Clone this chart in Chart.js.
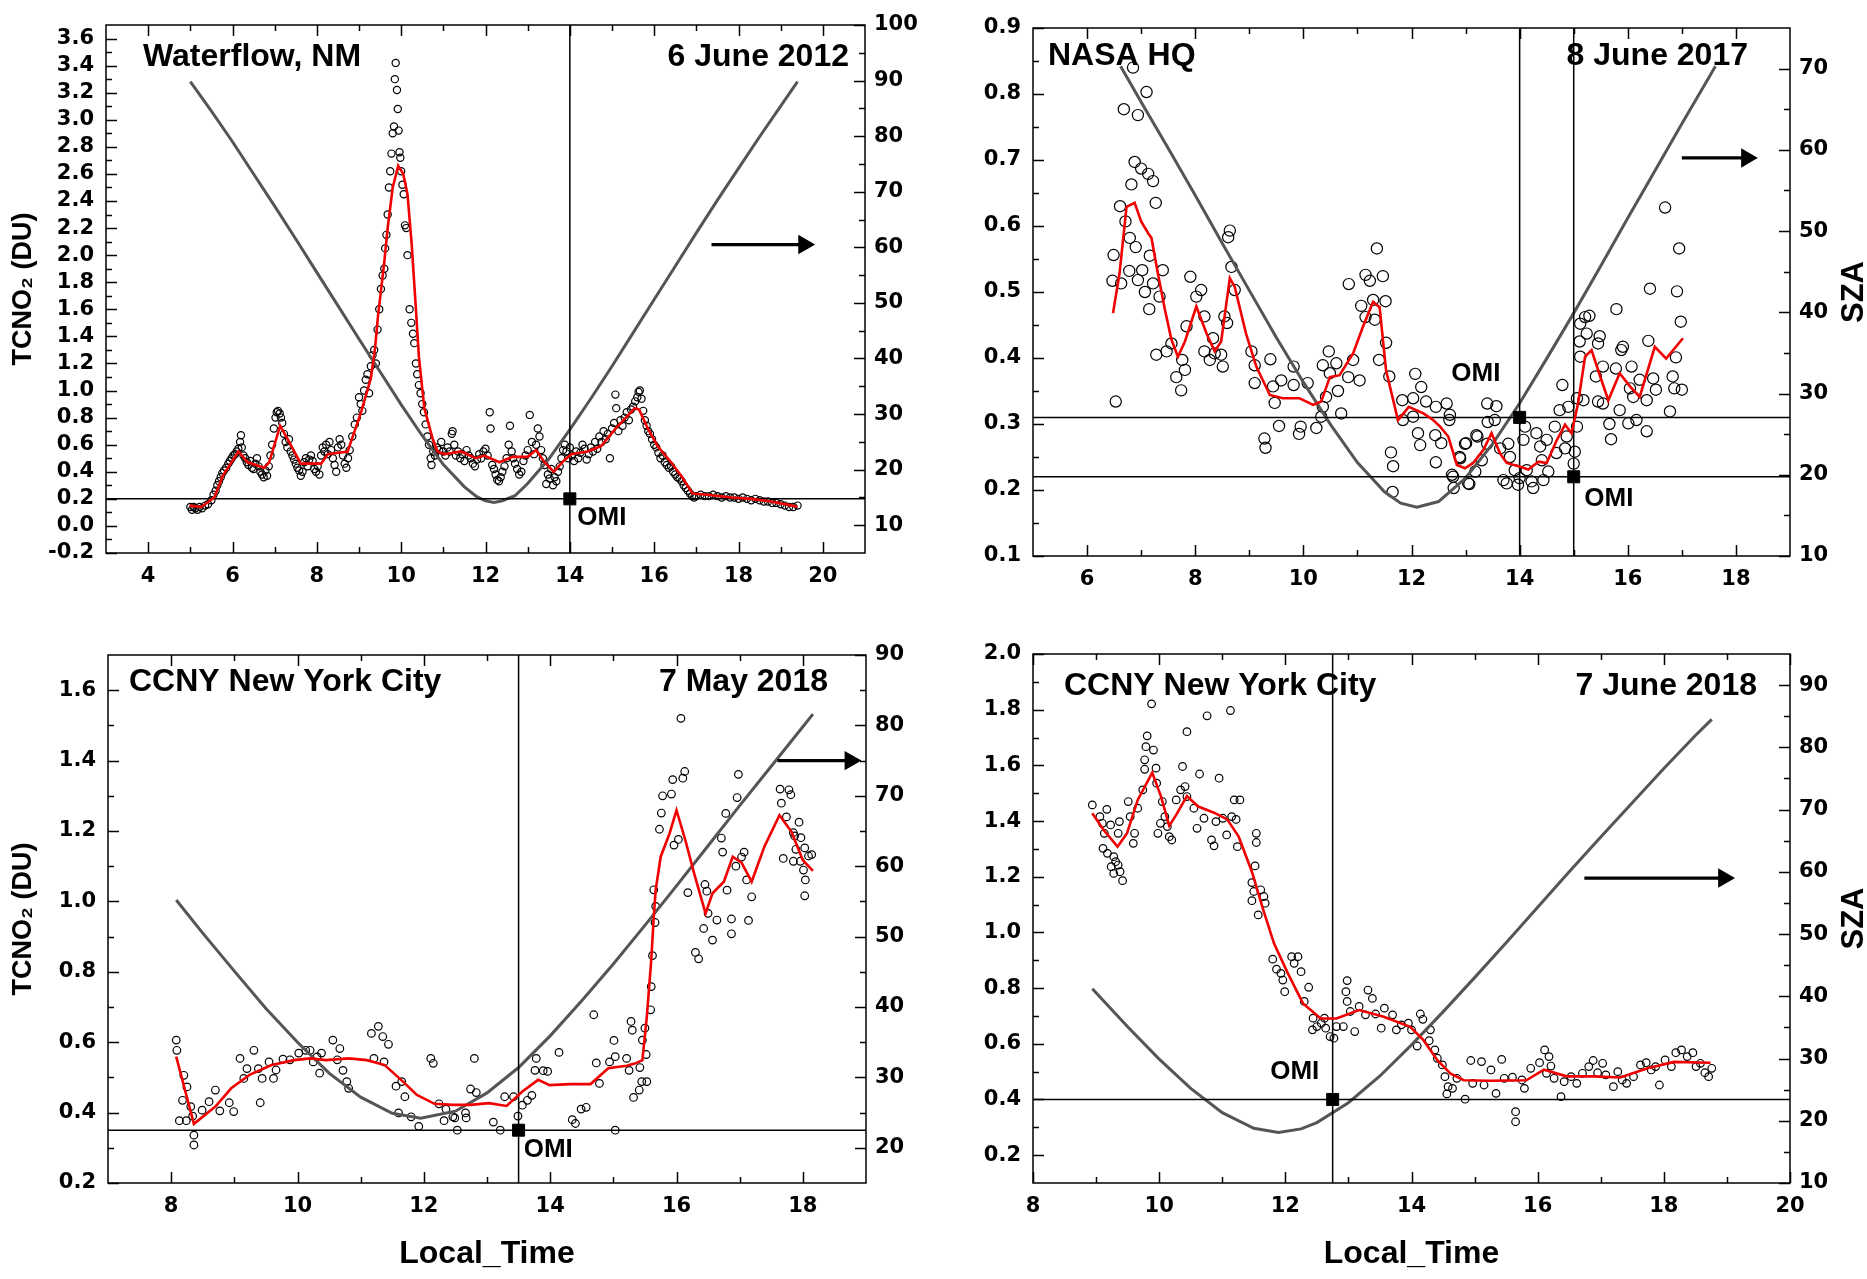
<!DOCTYPE html>
<html>
<head>
<meta charset="utf-8">
<script src="https://cdn.jsdelivr.net/npm/chart.js@4.4.1/dist/chart.umd.min.js"></script>
<style>
  html, body { margin: 0; padding: 0; background: #fff; }
  #page { position: relative; width: 1867px; height: 1279px; background: #fff; overflow: hidden; }
  canvas { position: absolute; }
</style>
</head>
<body>
<div id="page">
  <canvas id="c1" width="933" height="640" style="left:0;top:0"></canvas>
  <canvas id="c2" width="934" height="640" style="left:933px;top:0"></canvas>
  <canvas id="c3" width="933" height="650" style="left:0;top:629px"></canvas>
  <canvas id="c4" width="934" height="650" style="left:933px;top:629px"></canvas>
</div>
<script>
// ---------- Panel 1: Waterflow, NM, 6 June 2012 ----------
const p1XTicks = [4, 6, 8, 10, 12, 14, 16, 18, 20];
const p1YTicks = [-0.2, 0.0, 0.2, 0.4, 0.6, 0.8, 1.0, 1.2, 1.4, 1.6, 1.8, 2.0, 2.2, 2.4, 2.6, 2.8, 3.0, 3.2, 3.4, 3.6];
const p1SzaTicks = [10, 20, 30, 40, 50, 60, 70, 80, 90, 100];
const p1Omi = [[14, 0.2]];
const p1Arrow = [17.36, 19.55, 60.5];   // from time, to time, SZA level
const p1Obs = [
  [5.0,0.14],[5.04,0.12],[5.08,0.14],[5.12,0.13],[5.17,0.12],[5.22,0.14],[5.28,0.13],[5.35,0.15],[5.42,0.16],[5.5,0.19],
  [5.55,0.23],[5.6,0.26],[5.64,0.3],[5.68,0.33],[5.72,0.36],[5.76,0.39],[5.8,0.41],[5.85,0.43],[5.9,0.46],[5.94,0.48],
  [5.98,0.5],[6.02,0.52],[6.06,0.53],[6.1,0.55],[6.14,0.57],[6.18,0.62],[6.2,0.67],[6.22,0.58],[6.26,0.52],[6.3,0.5],
  [6.34,0.47],[6.38,0.45],[6.42,0.48],[6.46,0.43],[6.5,0.42],[6.54,0.46],[6.58,0.5],[6.62,0.44],[6.66,0.4],[6.7,0.38],
  [6.74,0.36],[6.78,0.41],[6.82,0.37],[6.86,0.44],[6.9,0.52],[6.94,0.6],[6.98,0.72],[7.02,0.8],[7.05,0.84],[7.08,0.85],
  [7.12,0.83],[7.15,0.8],[7.18,0.76],[7.22,0.68],[7.26,0.62],[7.3,0.58],[7.34,0.64],[7.38,0.55],[7.42,0.52],[7.46,0.49],
  [7.5,0.46],[7.54,0.43],[7.58,0.41],[7.62,0.37],[7.66,0.4],[7.7,0.47],[7.74,0.5],[7.78,0.44],[7.82,0.49],[7.86,0.52],
  [7.9,0.48],[7.94,0.42],[7.98,0.4],[8.02,0.44],[8.06,0.38],[8.1,0.52],[8.14,0.58],[8.18,0.55],[8.22,0.6],[8.26,0.53],
  [8.3,0.62],[8.34,0.56],[8.38,0.5],[8.42,0.45],[8.46,0.4],[8.5,0.58],[8.54,0.64],[8.58,0.6],[8.62,0.52],[8.66,0.46],
  [8.7,0.43],[8.74,0.5],[8.78,0.56],[8.84,0.66],[8.9,0.75],[8.95,0.8],[9.0,0.95],[9.04,0.9],[9.08,0.85],[9.12,1.0],
  [9.16,1.08],[9.2,1.12],[9.24,0.98],[9.28,1.18],[9.32,1.26],[9.36,1.3],[9.4,1.2],[9.44,1.45],[9.48,1.6],[9.52,1.75],
  [9.56,1.85],[9.6,1.9],[9.62,2.05],[9.65,2.15],[9.68,2.3],[9.71,2.5],[9.74,2.62],[9.77,2.75],[9.8,2.9],[9.83,2.95],
  [9.85,3.3],[9.87,3.42],[9.9,3.22],[9.92,3.08],[9.94,2.92],[9.96,2.76],[9.98,2.72],[10.0,2.62],[10.03,2.52],[10.06,2.45],
  [10.09,2.22],[10.12,2.2],[10.15,2.0],[10.2,1.6],[10.24,1.5],[10.28,1.42],[10.31,1.35],[10.35,1.2],[10.38,1.12],[10.42,1.04],
  [10.46,0.98],[10.5,0.9],[10.54,0.84],[10.58,0.75],[10.62,0.66],[10.66,0.6],[10.7,0.5],[10.72,0.45],[10.76,0.55],[10.8,0.52],
  [10.85,0.58],[10.9,0.56],[10.95,0.62],[11.0,0.55],[11.05,0.52],[11.1,0.58],[11.15,0.55],[11.2,0.68],[11.22,0.7],[11.26,0.6],
  [11.3,0.52],[11.35,0.55],[11.4,0.5],[11.45,0.53],[11.5,0.48],[11.55,0.56],[11.6,0.52],[11.65,0.5],[11.7,0.46],[11.75,0.44],
  [11.8,0.49],[11.85,0.53],[11.9,0.5],[11.95,0.55],[12.0,0.57],[12.05,0.52],[12.1,0.84],[12.12,0.72],[12.16,0.45],[12.2,0.42],
  [12.24,0.38],[12.28,0.34],[12.32,0.33],[12.36,0.36],[12.4,0.4],[12.45,0.44],[12.5,0.5],[12.55,0.6],[12.58,0.74],[12.62,0.55],
  [12.66,0.5],[12.7,0.46],[12.75,0.42],[12.8,0.38],[12.85,0.4],[12.9,0.48],[12.95,0.52],[13.0,0.56],[13.05,0.82],[13.1,0.62],
  [13.15,0.53],[13.2,0.6],[13.24,0.72],[13.28,0.66],[13.32,0.56],[13.36,0.5],[13.4,0.45],[13.44,0.31],[13.48,0.38],[13.52,0.35],
  [13.56,0.42],[13.6,0.3],[13.64,0.36],[13.68,0.33],[13.72,0.4],[13.76,0.44],[13.8,0.5],[13.84,0.56],[13.88,0.6],[13.92,0.55],
  [13.96,0.5],[14.0,0.58],[14.05,0.52],[14.1,0.48],[14.15,0.55],[14.2,0.5],[14.25,0.54],[14.3,0.6],[14.35,0.57],[14.4,0.49],
  [14.45,0.53],[14.5,0.58],[14.55,0.55],[14.6,0.62],[14.65,0.57],[14.7,0.66],[14.75,0.62],[14.8,0.7],[14.85,0.64],[14.9,0.68],
  [14.95,0.5],[15.0,0.72],[15.05,0.76],[15.08,0.97],[15.1,0.87],[15.15,0.7],[15.2,0.78],[15.25,0.74],[15.3,0.8],[15.35,0.84],
  [15.4,0.78],[15.45,0.86],[15.5,0.88],[15.55,0.92],[15.6,0.95],[15.63,0.99],[15.66,1.0],[15.7,0.94],[15.74,0.85],[15.78,0.78],
  [15.82,0.74],[15.86,0.7],[15.9,0.68],[15.95,0.64],[16.0,0.6],[16.05,0.58],[16.1,0.54],[16.15,0.5],[16.2,0.52],[16.25,0.47],
  [16.3,0.45],[16.35,0.43],[16.4,0.44],[16.45,0.4],[16.5,0.38],[16.55,0.36],[16.6,0.35],[16.65,0.33],[16.7,0.3],[16.75,0.28],
  [16.8,0.26],[16.85,0.24],[16.9,0.22],[16.95,0.21],[17.0,0.22],[17.1,0.23],[17.2,0.22],[17.3,0.22],[17.4,0.23],[17.5,0.22],
  [17.6,0.21],[17.7,0.22],[17.8,0.21],[17.9,0.21],[18.0,0.2],[18.1,0.21],[18.2,0.2],[18.3,0.19],[18.4,0.2],[18.5,0.19],
  [18.6,0.18],[18.7,0.18],[18.8,0.17],[18.9,0.17],[19.0,0.16],[19.1,0.15],[19.2,0.14],[19.3,0.14],[19.4,0.15]
];
const p1Fit = [
  [4.98,0.15],[5.26,0.14],[5.57,0.21],[5.77,0.37],[6.14,0.55],[6.36,0.47],[6.75,0.43],[6.87,0.47],[7.13,0.74],[7.31,0.64],
  [7.62,0.46],[8.1,0.46],[8.26,0.53],[8.73,0.55],[9.05,0.84],[9.28,1.09],[9.38,1.31],[9.45,1.55],[9.6,1.95],[9.68,2.2],
  [9.8,2.5],[9.93,2.66],[10.05,2.6],[10.15,2.45],[10.25,2.08],[10.35,1.6],[10.42,1.25],[10.55,0.87],[10.75,0.64],[10.86,0.55],
  [11.02,0.53],[11.42,0.55],[11.77,0.5],[11.97,0.52],[12.33,0.47],[12.64,0.51],[13.0,0.51],[13.2,0.56],[13.4,0.47],[13.62,0.4],
  [13.85,0.48],[14.03,0.53],[14.42,0.55],[14.74,0.59],[15.09,0.72],[15.54,0.87],[15.64,0.86],[15.85,0.72],[16.08,0.59],[16.4,0.47],
  [16.64,0.37],[16.91,0.24],[17.27,0.23],[17.82,0.21],[18.3,0.2],[18.77,0.18],[19.28,0.15],[19.4,0.14]
];
const p1Sza = [
  [5.0,89.8],[5.5,84.5],[6.0,79.0],[6.5,73.2],[7.0,67.4],[7.5,61.5],[8.0,55.5],[8.5,49.5],[9.0,43.5],[9.5,37.6],
  [10.0,31.7],[10.5,26.1],[11.0,20.9],[11.5,16.9],[11.8,15.1],[12.0,14.4],[12.2,14.1],[12.4,14.4],[12.7,15.3],[13.0,17.5],
  [13.5,21.9],[14.0,27.2],[14.5,32.8],[15.0,38.6],[15.5,44.6],[16.0,50.6],[16.5,56.6],[17.0,62.6],[17.5,68.5],[18.0,74.2],
  [18.5,79.9],[19.0,85.4],[19.4,89.8]
];

// ---------- Panel 2: NASA HQ, 8 June 2017 ----------
const p2XTicks = [6, 8, 10, 12, 14, 16, 18];
const p2YTicks = [0.1, 0.2, 0.3, 0.4, 0.5, 0.6, 0.7, 0.8, 0.9];
const p2SzaTicks = [10, 20, 30, 40, 50, 60, 70];
const p2Omi = [[14, 0.31], [15, 0.22]];
const p2Arrow = [17.0, 18.2, 59];
const p2Obs = [
  [6.85,0.84],[7.1,0.803],[6.68,0.777],[6.94,0.768],[6.88,0.697],[7.0,0.687],[7.13,0.679],[7.22,0.668],[6.82,0.663],[7.27,0.635],
  [6.61,0.63],[6.71,0.607],[6.79,0.582],[6.9,0.568],[6.49,0.556],[7.16,0.555],[6.78,0.532],[7.02,0.533],[7.4,0.533],[6.47,0.517],
  [6.63,0.513],[6.94,0.518],[7.22,0.513],[7.07,0.5],[7.34,0.493],[7.15,0.474],[6.53,0.334],[7.91,0.523],[8.11,0.503],[8.02,0.493],
  [8.17,0.463],[7.84,0.448],[7.56,0.422],[7.28,0.405],[7.47,0.41],[7.76,0.397],[7.81,0.382],[7.65,0.371],[7.74,0.351],[8.17,0.41],
  [8.27,0.397],[8.36,0.407],[8.48,0.405],[8.51,0.387],[8.33,0.43],[8.54,0.463],[8.59,0.453],[8.64,0.593],[8.61,0.583],[8.67,0.538],
  [8.73,0.503],[9.04,0.41],[9.1,0.389],[9.1,0.362],[9.39,0.398],[9.44,0.357],[9.47,0.332],[9.59,0.366],[9.82,0.387],[9.82,0.359],
  [10.08,0.362],[9.55,0.297],[9.28,0.278],[9.3,0.264],[9.95,0.296],[9.92,0.285],[10.24,0.294],[10.33,0.311],[10.36,0.326],[10.42,0.341],
  [10.64,0.35],[10.7,0.316],[10.47,0.41],[10.36,0.389],[10.61,0.392],[10.49,0.377],[10.83,0.371],[10.92,0.397],[11.04,0.366],[10.84,0.512],
  [11.15,0.526],[11.23,0.517],[11.47,0.524],[11.36,0.566],[11.07,0.479],[11.15,0.462],[11.29,0.488],[11.52,0.486],[11.32,0.458],[11.53,0.423],
  [11.4,0.397],[11.59,0.372],[11.62,0.257],[11.66,0.236],[11.65,0.197],[11.83,0.336],[12.07,0.376],[12.18,0.356],[12.03,0.339],[12.27,0.334],
  [12.45,0.326],[12.65,0.331],[11.84,0.306],[12.03,0.311],[12.12,0.286],[12.16,0.268],[12.44,0.283],[12.55,0.271],[12.45,0.242],[12.7,0.306],
  [12.75,0.223],[12.78,0.203],[13.01,0.271],[12.89,0.25],[13.07,0.209],[13.22,0.281],[12.71,0.314],[12.77,0.22],[13.05,0.21],[12.99,0.27],
  [13.2,0.283],[12.9,0.248],[13.18,0.228],[13.4,0.331],[13.57,0.327],[13.41,0.303],[13.54,0.306],[13.4,0.27],[13.3,0.245],[13.64,0.263],
  [13.7,0.215],[13.79,0.27],[13.82,0.25],[13.91,0.23],[14.0,0.218],[13.76,0.21],[13.97,0.208],[14.1,0.296],[14.07,0.276],[14.22,0.213],
  [14.25,0.203],[14.13,0.23],[14.31,0.286],[14.38,0.266],[14.41,0.245],[14.5,0.276],[14.44,0.215],[14.53,0.228],[14.65,0.296],[14.74,0.321],
  [14.68,0.256],[14.79,0.359],[14.87,0.281],[14.9,0.326],[14.84,0.263],[15.02,0.258],[15.0,0.24],[15.06,0.296],[15.06,0.339],[15.12,0.452],
  [15.21,0.462],[15.29,0.464],[15.11,0.425],[15.12,0.402],[15.24,0.437],[15.45,0.422],[15.48,0.433],[15.18,0.336],[15.41,0.372],[15.54,0.387],
  [15.79,0.474],[15.88,0.412],[15.91,0.417],[15.78,0.384],[16.07,0.387],[16.22,0.367],[15.54,0.331],[15.85,0.321],[15.66,0.3],[15.69,0.277],
  [16.04,0.354],[16.1,0.341],[16.16,0.306],[16.35,0.289],[16.01,0.301],[16.35,0.336],[16.47,0.369],[16.52,0.352],[16.38,0.426],[16.41,0.505],
  [16.69,0.628],[16.95,0.566],[16.91,0.501],[16.98,0.455],[16.89,0.401],[16.83,0.372],[16.86,0.354],[17.0,0.352],[16.78,0.319],[15.45,0.334]
];
const p2Fit = [
  [6.48,0.468],[6.6,0.528],[6.73,0.629],[6.88,0.635],[7.0,0.607],[7.13,0.589],[7.19,0.582],[7.31,0.528],[7.44,0.473],[7.56,0.428],
  [7.68,0.402],[7.81,0.425],[8.02,0.478],[8.21,0.437],[8.36,0.41],[8.48,0.425],[8.64,0.521],[8.73,0.508],[8.94,0.437],[9.13,0.387],
  [9.38,0.344],[9.62,0.339],[9.93,0.339],[10.18,0.329],[10.33,0.334],[10.49,0.371],[10.67,0.374],[10.92,0.407],[11.1,0.447],[11.29,0.485],
  [11.41,0.477],[11.53,0.381],[11.75,0.306],[11.95,0.326],[12.22,0.316],[12.4,0.306],[12.53,0.296],[12.68,0.281],[12.84,0.238],[12.99,0.233],
  [13.14,0.241],[13.33,0.261],[13.48,0.286],[13.64,0.255],[13.76,0.241],[13.98,0.236],[14.16,0.231],[14.35,0.243],[14.5,0.241],[14.69,0.276],
  [14.84,0.299],[14.96,0.286],[15.08,0.331],[15.21,0.402],[15.33,0.412],[15.49,0.372],[15.64,0.336],[15.85,0.377],[16.04,0.357],[16.22,0.341],
  [16.5,0.417],[16.71,0.399],[17.02,0.43]
];
const p2Sza = [
  [6.62,70.3],[7.0,65.9],[7.5,60.2],[8.0,54.4],[8.5,48.5],[9.0,42.7],[9.5,36.9],[10.0,31.4],[10.5,26.2],[11.0,21.5],
  [11.5,17.9],[11.8,16.5],[12.1,16.0],[12.5,16.7],[13.0,19.6],[13.5,23.8],[14.0,28.8],[14.5,34.3],[15.0,39.9],[15.5,45.7],
  [16.0,51.6],[16.5,57.4],[17.0,63.2],[17.5,68.9],[17.62,70.3]
];

// ---------- Panel 3: CCNY New York City, 7 May 2018 ----------
const p3XTicks = [8, 10, 12, 14, 16, 18];
const p3YTicks = [0.2, 0.4, 0.6, 0.8, 1.0, 1.2, 1.4, 1.6];
const p3SzaTicks = [20, 30, 40, 50, 60, 70, 80, 90];
const p3Omi = [[13.5, 0.35]];
const p3Arrow = [17.6, 18.75, 75];
const p3Obs = [
  [8.08,0.606],[8.09,0.577],[8.2,0.506],[8.18,0.435],[8.25,0.473],[8.13,0.377],[8.24,0.377],[8.31,0.417],[8.36,0.336],[8.36,0.308],
  [8.34,0.39],[8.49,0.407],[8.6,0.431],[8.7,0.464],[8.77,0.405],[8.92,0.428],[8.99,0.403],[9.09,0.554],[9.15,0.497],[9.2,0.525],
  [9.31,0.577],[9.38,0.525],[9.44,0.497],[9.41,0.428],[9.55,0.544],[9.62,0.497],[9.66,0.521],[9.77,0.552],[9.88,0.55],[10.02,0.569],
  [10.13,0.577],[10.2,0.577],[10.25,0.544],[10.31,0.558],[10.38,0.569],[10.35,0.512],[10.56,0.606],[10.67,0.582],[10.63,0.55],[10.72,0.52],
  [10.78,0.488],[10.81,0.469],[11.17,0.625],[11.28,0.645],[11.35,0.616],[11.44,0.594],[11.21,0.554],[11.37,0.544],[11.56,0.475],[11.65,0.488],
  [11.7,0.445],[11.6,0.399],[11.8,0.388],[11.92,0.361],[12.11,0.554],[12.15,0.54],[12.24,0.425],[12.35,0.41],[12.46,0.388],[12.32,0.377],
  [12.53,0.35],[12.49,0.385],[12.66,0.399],[12.74,0.467],[12.8,0.554],[12.83,0.457],[12.67,0.385],[13.1,0.373],[13.21,0.35],[13.28,0.445],
  [13.42,0.445],[13.49,0.39],[13.56,0.421],[13.64,0.435],[13.71,0.449],[13.78,0.554],[13.76,0.52],[13.89,0.519],[13.96,0.517],[14.14,0.571],
  [14.35,0.38],[14.4,0.369],[14.49,0.41],[14.57,0.415],[14.69,0.678],[14.73,0.541],[14.78,0.483],[14.94,0.544],[15.01,0.605],[15.03,0.559],
  [15.03,0.35],[15.21,0.554],[15.25,0.52],[15.28,0.659],[15.3,0.634],[15.32,0.443],[15.41,0.464],[15.42,0.528],[15.45,0.488],[15.46,0.606],
  [15.5,0.64],[15.52,0.565],[15.53,0.488],[15.59,0.692],[15.6,0.758],[15.62,0.846],[15.66,0.94],[15.64,1.033],[15.67,0.986],[15.73,1.205],
  [15.76,1.251],[15.78,1.3],[15.92,1.305],[15.94,1.346],[16.13,1.369],[16.1,1.35],[16.07,1.52],[15.96,1.16],[16.03,1.176],[16.18,1.025],
  [16.45,1.048],[16.48,1.029],[16.5,0.966],[16.43,0.923],[16.57,0.89],[16.64,0.947],[16.3,0.855],[16.35,0.837],[16.71,1.18],[16.73,1.14],
  [16.8,1.032],[16.87,0.95],[16.87,0.908],[16.94,1.1],[16.96,1.295],[16.98,1.361],[17.07,1.14],[17.03,1.126],[17.14,0.946],[17.19,1.013],
  [17.11,1.061],[16.78,1.25],[17.64,1.319],[17.78,1.317],[17.66,1.279],[17.81,1.303],[17.74,1.24],[17.94,1.225],[17.85,1.195],[17.69,1.122],
  [17.87,1.186],[17.97,1.181],[17.89,1.148],[18.03,1.152],[18.14,1.133],[17.96,1.114],[18.01,1.089],[18.04,1.061],[18.03,1.016],[17.85,1.114],
  [18.09,1.129]
];
const p3Fit = [
  [8.08,0.559],[8.36,0.368],[8.7,0.417],[8.95,0.469],[9.24,0.507],[9.59,0.535],[9.95,0.549],[10.2,0.554],[10.45,0.549],[10.81,0.554],
  [11.1,0.549],[11.38,0.535],[11.67,0.488],[11.89,0.45],[12.17,0.425],[12.46,0.422],[12.74,0.422],[13.03,0.427],[13.31,0.419],[13.56,0.46],
  [13.81,0.493],[13.99,0.478],[14.32,0.481],[14.64,0.481],[14.92,0.526],[15.21,0.533],[15.35,0.54],[15.46,0.549],[15.53,0.672],[15.6,0.833],
  [15.64,0.956],[15.67,1.032],[15.75,1.127],[15.89,1.193],[16.0,1.259],[16.14,1.174],[16.28,1.079],[16.46,0.966],[16.57,1.023],[16.75,1.056],
  [16.89,1.127],[17.03,1.11],[17.19,1.056],[17.39,1.155],[17.63,1.245],[17.82,1.198],[18.0,1.117],[18.16,1.087]
];
const p3Sza = [
  [8.08,55.2],[8.5,50.5],[9.0,45.1],[9.5,39.8],[10.0,35.0],[10.5,30.6],[11.0,27.2],[11.5,24.9],[11.95,24.2],[12.5,25.2],
  [13.0,27.8],[13.5,31.4],[14.0,35.9],[14.5,40.9],[15.0,46.1],[15.5,51.6],[16.0,57.2],[16.5,62.9],[17.0,68.6],[17.5,74.2],
  [18.0,79.8],[18.16,81.6]
];

// ---------- Panel 4: CCNY New York City, 7 June 2018 ----------
const p4XTicks = [8, 10, 12, 14, 16, 18, 20];
const p4YTicks = [0.2, 0.4, 0.6, 0.8, 1.0, 1.2, 1.4, 1.6, 1.8, 2.0];
const p4SzaTicks = [10, 20, 30, 40, 50, 60, 70, 80, 90];
const p4Omi = [[12.75, 0.4]];
const p4Arrow = [16.74, 18.95, 59];
const p4Obs = [
  [8.94,1.458],[9.06,1.416],[9.17,1.442],[9.1,1.392],[9.23,1.386],[9.13,1.356],[9.11,1.302],[9.18,1.284],[9.28,1.272],[9.31,1.254],
  [9.24,1.236],[9.35,1.242],[9.38,1.218],[9.28,1.212],[9.42,1.186],[9.35,1.356],[9.37,1.398],[9.51,1.47],[9.54,1.416],[9.61,1.356],
  [9.59,1.32],[9.66,1.446],[9.74,1.512],[9.77,1.586],[9.79,1.667],[9.81,1.706],[9.91,1.655],[9.77,1.62],[9.95,1.59],[9.88,1.821],
  [9.96,1.536],[10.05,1.47],[10.02,1.392],[9.98,1.356],[10.13,1.38],[10.16,1.344],[10.2,1.332],[10.09,1.416],[10.27,1.476],[10.34,1.512],
  [10.41,1.524],[10.44,1.488],[10.37,1.596],[10.44,1.721],[10.64,1.569],[10.55,1.446],[10.6,1.374],[10.76,1.778],[10.95,1.554],[10.71,1.41],
  [10.9,1.398],[10.83,1.332],[10.87,1.311],[11.07,1.35],[11.01,1.41],[11.13,1.797],[11.19,1.476],[11.28,1.476],[11.15,1.416],[11.22,1.406],
  [11.24,1.308],[11.54,1.356],[11.54,1.323],[11.52,1.239],[11.47,1.179],[11.5,1.147],[11.47,1.114],[11.61,1.153],[11.66,1.129],[11.57,1.063],
  [11.68,1.105],[11.8,0.904],[11.86,0.868],[11.93,0.853],[11.96,0.829],[11.99,0.787],[12.1,0.913],[12.14,0.889],[12.2,0.913],[12.25,0.859],
  [12.37,0.803],[12.3,0.752],[12.44,0.692],[12.5,0.662],[12.43,0.65],[12.57,0.674],[12.64,0.656],[12.62,0.692],[12.71,0.626],[12.77,0.62],
  [12.81,0.662],[12.92,0.662],[12.98,0.827],[12.96,0.787],[12.98,0.752],[13.03,0.716],[13.1,0.644],[13.17,0.734],[13.31,0.793],[13.38,0.763],
  [13.27,0.704],[13.43,0.707],[13.52,0.656],[13.57,0.728],[13.7,0.704],[13.76,0.65],[13.84,0.668],[13.95,0.674],[14.0,0.65],[14.14,0.707],
  [14.18,0.688],[14.09,0.592],[14.3,0.65],[14.28,0.611],[14.37,0.578],[14.41,0.548],[14.49,0.524],[14.53,0.482],[14.58,0.446],[14.56,0.42],
  [14.65,0.44],[14.72,0.476],[14.85,0.401],[14.94,0.54],[14.97,0.458],[15.11,0.536],[15.15,0.452],[15.26,0.506],[15.34,0.422],[15.43,0.544],
  [15.47,0.476],[15.6,0.48],[15.65,0.356],[15.65,0.32],[15.75,0.47],[15.79,0.44],[15.89,0.512],[16.03,0.532],[16.11,0.578],[16.18,0.554],
  [16.21,0.52],[16.14,0.494],[16.26,0.476],[16.37,0.41],[16.42,0.464],[16.53,0.482],[16.62,0.458],[16.71,0.494],[16.81,0.518],[16.88,0.54],
  [16.95,0.496],[17.03,0.53],[17.08,0.488],[17.2,0.446],[17.27,0.5],[17.34,0.47],[17.41,0.458],[17.52,0.482],[17.63,0.524],[17.72,0.532],
  [17.8,0.506],[17.87,0.518],[17.93,0.452],[18.02,0.542],[18.12,0.518],[18.19,0.568],[18.28,0.578],[18.37,0.554],[18.46,0.568],[18.51,0.518],
  [18.58,0.53],[18.65,0.496],[18.71,0.482],[18.76,0.512]
];
const p4Fit = [
  [8.94,1.428],[9.12,1.368],[9.34,1.308],[9.49,1.356],[9.66,1.476],[9.89,1.574],[10.03,1.488],[10.16,1.383],[10.27,1.422],[10.44,1.49],
  [10.62,1.452],[10.87,1.43],[11.08,1.406],[11.26,1.344],[11.47,1.218],[11.65,1.081],[11.82,0.961],[12.04,0.853],[12.28,0.745],[12.56,0.691],
  [12.81,0.691],[13.17,0.721],[13.56,0.697],[13.98,0.661],[14.19,0.613],[14.41,0.541],[14.62,0.493],[14.83,0.469],[15.25,0.467],[15.82,0.469],
  [16.1,0.507],[16.46,0.483],[16.88,0.483],[17.31,0.479],[17.73,0.511],[18.16,0.535],[18.74,0.532]
];
const p4Sza = [
  [8.94,41.2],[9.5,35.1],[10.0,29.9],[10.5,25.2],[11.0,21.3],[11.5,18.8],[11.89,18.1],[12.25,18.7],[12.5,19.7],[13.0,22.9],
  [13.5,27.2],[14.0,32.2],[14.5,37.5],[15.0,43.0],[15.5,48.6],[16.0,54.3],[16.5,60.0],[17.0,65.6],[17.5,71.1],[18.0,76.6],
  [18.5,81.9],[18.76,84.5]
];

const FONT = "'Liberation Sans', Arial, Helvetica, sans-serif";
const TICK_FONT = "'DejaVu Sans', Verdana, sans-serif";

function toPoints(pairs) {
  return pairs.map(p => ({ x: p[0], y: p[1] }));
}

// minor ticks sit halfway between the major ones
function halfSteps(major, min, max) {
  const step = major[1] - major[0];
  const out = [];
  for (let v = major[0] - step / 2; v < max; v += step) {
    if (v > min + 1e-6 && v < max - 1e-6) out.push(v);
  }
  return out;
}

// frame with inward tick marks on all four sides
const framePlugin = {
  id: 'frame',
  afterDatasetsDraw(chart, args, opts) {
    const { ctx, chartArea: a, scales } = chart;
    ctx.save();
    ctx.strokeStyle = '#000';
    ctx.lineWidth = 1.5;
    ctx.beginPath();
    const xs = scales.x, ys = scales.y, y2 = scales.y2;
    const tickX = (vals, len) => vals.forEach(v => {
      const px = Math.round(xs.getPixelForValue(v)) + 0.5;
      ctx.moveTo(px, a.bottom); ctx.lineTo(px, a.bottom - len);
      ctx.moveTo(px, a.top); ctx.lineTo(px, a.top + len);
    });
    const tickY = (scale, vals, len, edge, dir) => vals.forEach(v => {
      const py = Math.round(scale.getPixelForValue(v)) + 0.5;
      ctx.moveTo(edge, py); ctx.lineTo(edge + dir * len, py);
    });
    tickX(opts.x, 11);
    tickX(halfSteps(opts.x, xs.min, xs.max), 6);
    tickY(ys, opts.y, 11, a.left, 1);
    tickY(ys, halfSteps(opts.y, ys.min, ys.max), 6, a.left, 1);
    tickY(y2, opts.y2, 11, a.right, -1);
    tickY(y2, halfSteps(opts.y2, y2.min, y2.max), 6, a.right, -1);
    ctx.stroke();
    ctx.strokeRect(a.left, a.top, a.right - a.left, a.bottom - a.top);
    ctx.restore();
  }
};

// site names, dates, OMI labels and the rotated SZA title
const textPlugin = {
  id: 'panelText',
  afterDatasetsDraw(chart, args, opts) {
    const { ctx, chartArea: a, scales } = chart;
    ctx.save();
    ctx.fillStyle = '#000';
    opts.items.forEach(it => {
      ctx.font = 'bold ' + it.size + 'px ' + FONT;
      if (it.data) {
        ctx.textAlign = 'center';
        ctx.textBaseline = 'middle';
        ctx.fillText(it.text, scales.x.getPixelForValue(it.data[0]), scales.y.getPixelForValue(it.data[1]));
      } else {
        ctx.textAlign = it.right ? 'right' : 'left';
        ctx.textBaseline = 'alphabetic';
        const x = it.right ? a.right - it.dx : a.left + it.dx;
        ctx.fillText(it.text, x, a.top + it.dy);
      }
    });
    if (opts.sza) {
      ctx.font = 'bold 31px ' + FONT;
      ctx.textAlign = 'center';
      ctx.textBaseline = 'middle';
      ctx.translate(a.right + 64, (a.top + a.bottom) / 2);
      ctx.rotate(-Math.PI / 2);
      ctx.fillText('SZA', 0, 0);
    }
    ctx.restore();
  }
};

function buildPanel(p) {
  const tickFont = { family: TICK_FONT, size: 21, weight: 'bold', lineHeight: 1 };
  const datasets = [];
  const xMin = p.xRange[0], xMax = p.xRange[1];
  const yMin = p.yRange[0], yMax = p.yRange[1];

  p.omi.forEach(o => {
    datasets.push({ data: [{ x: o[0], y: o[1] }], pointStyle: 'rect', pointRadius: 8.5,
      pointBackgroundColor: '#000', pointBorderColor: '#000', order: 0 });
  });
  datasets.push({ data: toPoints(p.fit), showLine: true, pointRadius: 0, borderColor: '#f00000',
    borderWidth: 2.6, order: 1 });
  datasets.push({ data: [{ x: p.arrow[0], y: p.arrow[2] }, { x: p.arrow[1], y: p.arrow[2] }], yAxisID: 'y2',
    showLine: true, borderColor: '#000', borderWidth: 3.2, pointRadius: [0, 8], pointStyle: 'triangle',
    pointRotation: 90, pointBackgroundColor: '#000', pointBorderColor: '#000', order: 2 });
  p.omi.forEach(o => {
    datasets.push({ data: [{ x: xMin, y: o[1] }, { x: xMax, y: o[1] }], showLine: true, pointRadius: 0,
      borderColor: '#000', borderWidth: 1.5, order: 3 });
    datasets.push({ data: [{ x: o[0], y: yMin }, { x: o[0], y: yMax }], showLine: true, pointRadius: 0,
      borderColor: '#000', borderWidth: 1.5, order: 3 });
  });
  datasets.push({ data: toPoints(p.sza), yAxisID: 'y2', showLine: true, pointRadius: 0,
    borderColor: '#555555', borderWidth: 3, order: 4 });
  datasets.push({ data: toPoints(p.obs), pointStyle: 'circle', pointRadius: p.radius, pointBorderWidth: 1.2,
    pointBorderColor: '#000', pointBackgroundColor: 'rgba(255,255,255,0)', order: 5 });

  const L = p.layout;
  return new Chart(document.getElementById(p.canvas), {
    type: 'scatter',
    data: { datasets },
    options: {
      responsive: false,
      animation: false,
      devicePixelRatio: 1,
      layout: { padding: { top: L.top, left: 0, right: 0, bottom: 0 } },
      plugins: {
        legend: { display: false },
        tooltip: { enabled: false },
        frame: { x: p.xTicks, y: p.yTicks, y2: p.szaTicks },
        panelText: { items: p.texts, sza: p.szaTitle }
      },
      scales: {
        x: {
          type: 'linear', position: 'bottom', min: xMin, max: xMax,
          grid: { display: false, drawTicks: false }, border: { display: false },
          ticks: { font: tickFont, color: '#000', padding: 13, maxRotation: 0, autoSkip: false,
            callback: v => String(v) },
          afterBuildTicks: s => { s.ticks = p.xTicks.map(v => ({ value: v })); },
          afterFit: s => { s.height = L.bottom; },
          title: { display: !!p.xTitle, text: p.xTitle || '', color: '#000',
            font: { family: FONT, size: 32, weight: 'bold' }, padding: { top: 0, bottom: 6 } }
        },
        y: {
          type: 'linear', position: 'left', min: yMin, max: yMax,
          grid: { display: false, drawTicks: false }, border: { display: false },
          ticks: { font: tickFont, color: '#000', padding: 12, autoSkip: false,
            callback: v => v.toFixed(1) },
          afterBuildTicks: s => { s.ticks = p.yTicks.map(v => ({ value: v })); },
          afterFit: s => { s.width = L.left; },
          title: { display: !!p.yTitle, text: p.yTitle || '', color: '#000',
            font: { family: FONT, size: 27, weight: 'bold' }, padding: { top: 7, bottom: 0 } }
        },
        y2: {
          type: 'linear', position: 'right', min: p.szaRange[0], max: p.szaRange[1],
          grid: { display: false, drawTicks: false }, border: { display: false },
          ticks: { font: tickFont, color: '#000', padding: 9, autoSkip: false,
            callback: v => String(v) },
          afterBuildTicks: s => { s.ticks = p.szaTicks.map(v => ({ value: v })); },
          afterFit: s => { s.width = L.right; }
        }
      }
    },
    plugins: [framePlugin, textPlugin]
  });
}

buildPanel({
  canvas: 'c1', xRange: [3, 21], yRange: [-0.2, 3.7], szaRange: [5, 100],
  xTicks: p1XTicks, yTicks: p1YTicks, szaTicks: p1SzaTicks,
  obs: p1Obs, fit: p1Fit, sza: p1Sza, omi: p1Omi, arrow: p1Arrow, radius: 3.6,
  layout: { left: 106, right: 68, top: 25, bottom: 87 },
  yTitle: 'TCNO\u2082 (DU)', xTitle: null, szaTitle: false,
  texts: [
    { text: 'Waterflow, NM', size: 32, dx: 37, dy: 41 },
    { text: '6 June 2012', size: 32, dx: 16, dy: 41, right: true },
    { text: 'OMI', size: 26, data: [14.76, 0.06] }
  ]
});

buildPanel({
  canvas: 'c2', xRange: [5, 19], yRange: [0.1, 0.9], szaRange: [10, 75],
  xTicks: p2XTicks, yTicks: p2YTicks, szaTicks: p2SzaTicks,
  obs: p2Obs, fit: p2Fit, sza: p2Sza, omi: p2Omi, arrow: p2Arrow, radius: 5.6,
  layout: { left: 100, right: 77, top: 28, bottom: 84 },
  yTitle: null, xTitle: null, szaTitle: true,
  texts: [
    { text: 'NASA HQ', size: 32, dx: 15, dy: 37 },
    { text: '8 June 2017', size: 32, dx: 42, dy: 37, right: true },
    { text: 'OMI', size: 26, data: [13.19, 0.376] },
    { text: 'OMI', size: 26, data: [15.65, 0.186] }
  ]
});

buildPanel({
  canvas: 'c3', xRange: [7, 19], yRange: [0.2, 1.7], szaRange: [15, 90],
  xTicks: p3XTicks, yTicks: p3YTicks, szaTicks: p3SzaTicks,
  obs: p3Obs, fit: p3Fit, sza: p3Sza, omi: p3Omi, arrow: p3Arrow, radius: 3.8,
  layout: { left: 108, right: 67, top: 26, bottom: 96 },
  yTitle: 'TCNO\u2082 (DU)', xTitle: 'Local_Time', szaTitle: false,
  texts: [
    { text: 'CCNY New York City', size: 32, dx: 21, dy: 36 },
    { text: '7 May 2018', size: 32, dx: 38, dy: 36, right: true },
    { text: 'OMI', size: 26, data: [13.97, 0.294] }
  ]
});

buildPanel({
  canvas: 'c4', xRange: [8, 20], yRange: [0.1, 2.0], szaRange: [10, 95],
  xTicks: p4XTicks, yTicks: p4YTicks, szaTicks: p4SzaTicks,
  obs: p4Obs, fit: p4Fit, sza: p4Sza, omi: p4Omi, arrow: p4Arrow, radius: 3.8,
  layout: { left: 100, right: 77, top: 25, bottom: 96 },
  yTitle: null, xTitle: 'Local_Time', szaTitle: true,
  texts: [
    { text: 'CCNY New York City', size: 32, dx: 31, dy: 41 },
    { text: '7 June 2018', size: 32, dx: 33, dy: 41, right: true },
    { text: 'OMI', size: 26, data: [12.15, 0.5] }
  ]
});
</script>
</body>
</html>
